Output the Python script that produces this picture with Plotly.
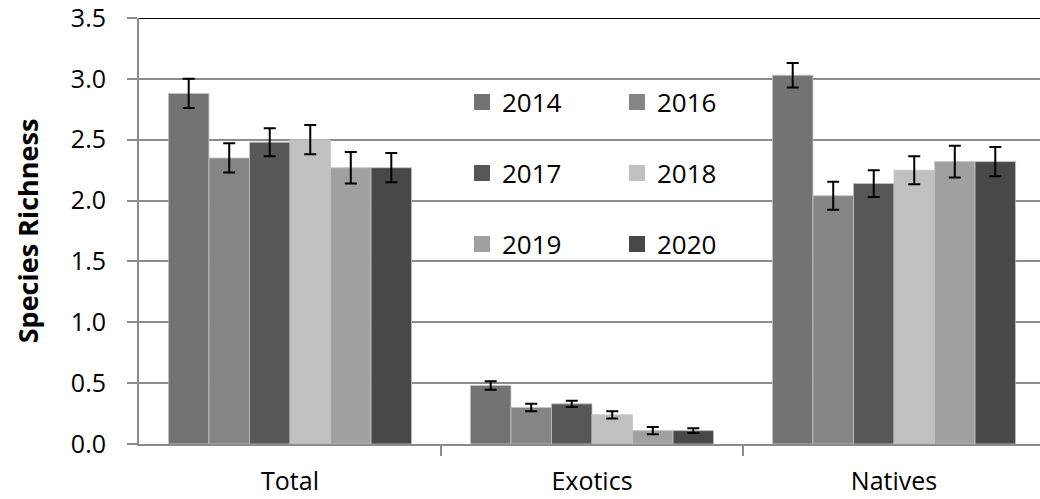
import plotly.graph_objects as go

categories = ["Total", "Exotics", "Natives"]
years = ["2014", "2016", "2017", "2018", "2019", "2020"]

vals_2014 = [2.88, 0.48, 3.03]
vals_2016 = [2.35, 0.30, 2.04]
vals_2017 = [2.48, 0.33, 2.14]
vals_2018 = [2.50, 0.24, 2.25]
vals_2019 = [2.27, 0.11, 2.32]
vals_2020 = [2.27, 0.11, 2.32]

err_2014 = [0.12, 0.035, 0.10]
err_2016 = [0.12, 0.03, 0.115]
err_2017 = [0.115, 0.025, 0.11]
err_2018 = [0.12, 0.03, 0.115]
err_2019 = [0.13, 0.03, 0.13]
err_2020 = [0.12, 0.02, 0.12]

y_ticks = [0, 0.5, 1.0, 1.5, 2.0, 2.5, 3.0, 3.5]
y_ticktext = ["0.0", "0.5", "1.0", "1.5", "2.0", "2.5", "3.0", "3.5"]
boundary_ticks = [0.5, 1.5]

colors = ["#737373", "#858585", "#575757", "#c0c0c0", "#a0a0a0", "#484848"]

series = [vals_2014, vals_2016, vals_2017, vals_2018, vals_2019, vals_2020]
errors = [err_2014, err_2016, err_2017, err_2018, err_2019, err_2020]
legend_ids = ["legend", "legend", "legend2", "legend2", "legend3", "legend3"]

FONT = "Open Sans"
X_RANGE = [-0.5, -0.5 + 901 / 302]

fig = go.Figure()
for yr, v, e, c in zip(years, series, errors, colors):
    fig.add_trace(go.Bar(
        name=yr, x=categories, y=v,
        marker=dict(color=c, line=dict(color="#c4c4c4", width=0.8)),
        error_y=dict(type="data", array=e, color="black", thickness=2, width=6),
        showlegend=False,
    ))

# legend proxies (square markers) arranged in a 2x3 grid
for yr, c, lg in zip(years, colors, legend_ids):
    fig.add_trace(go.Scatter(
        x=[None], y=[None], mode="markers", name=yr, xaxis="x2",
        marker=dict(symbol="square", size=16, color=c),
        legend=lg, showlegend=True,
    ))

plot_top, plot_bottom = 18, 444
ph = plot_bottom - plot_top

def ypaper(px):
    return (plot_bottom - px) / ph

legend_common = dict(
    orientation="h", xanchor="left", yanchor="middle",
    font=dict(family=FONT, size=26, color="black"),
    bgcolor="rgba(0,0,0,0)", entrywidth=110, entrywidthmode="pixels",
)

fig.update_layout(
    width=1040, height=499,
    margin=dict(l=139, r=0, t=plot_top, b=499 - plot_bottom),
    paper_bgcolor="white", plot_bgcolor="white",
    barmode="group", bargap=0.195, bargroupgap=0,
    font=dict(family=FONT, size=26, color="black"),
    legend=dict(x=(462 - 139) / 901, y=ypaper(102), **legend_common),
    legend2=dict(x=(462 - 139) / 901, y=ypaper(173), **legend_common),
    legend3=dict(x=(462 - 139) / 901, y=ypaper(244), **legend_common),
    xaxis=dict(
        type="category", range=X_RANGE, automargin=False,
        ticks="", showgrid=False, showline=True,
        linecolor="#8c8c8c", linewidth=2,
        tickfont=dict(family=FONT, size=25, color="black"),
        ticklabelstandoff=14,
    ),
    xaxis2=dict(
        overlaying="x", anchor="y", side="bottom", range=X_RANGE,
        automargin=False,
        tickvals=boundary_ticks, ticktext=["", ""],
        ticks="outside", ticklen=11, tickwidth=2, tickcolor="#8c8c8c",
        showgrid=False, zeroline=False, showline=False,
    ),
    yaxis=dict(
        range=[0, 3.5], tickvals=y_ticks, ticktext=y_ticktext,
        automargin=False, ticklabeloverflow="allow",
        ticks="outside", ticklen=10, tickwidth=2, tickcolor="#8c8c8c",
        showgrid=True, gridcolor="#8c8c8c", gridwidth=2,
        zeroline=False, showline=True, linecolor="#8c8c8c", linewidth=2,
        tickfont=dict(family=FONT, size=25, color="black"),
        ticklabelstandoff=16,
        title=dict(text="<b>Species Richness</b>",
                   font=dict(family=FONT, size=27, color="black"),
                   standoff=24),
    ),
    shapes=[dict(type="line", xref="paper", yref="y", x0=0, x1=1, y0=3.5, y1=3.5,
                 line=dict(color="black", width=2))],
)

fig.write_html(
    "out.html",
    config={"displayModeBar": False},
    post_script="document.body.style.margin='0';document.body.style.overflow='hidden';",
)
